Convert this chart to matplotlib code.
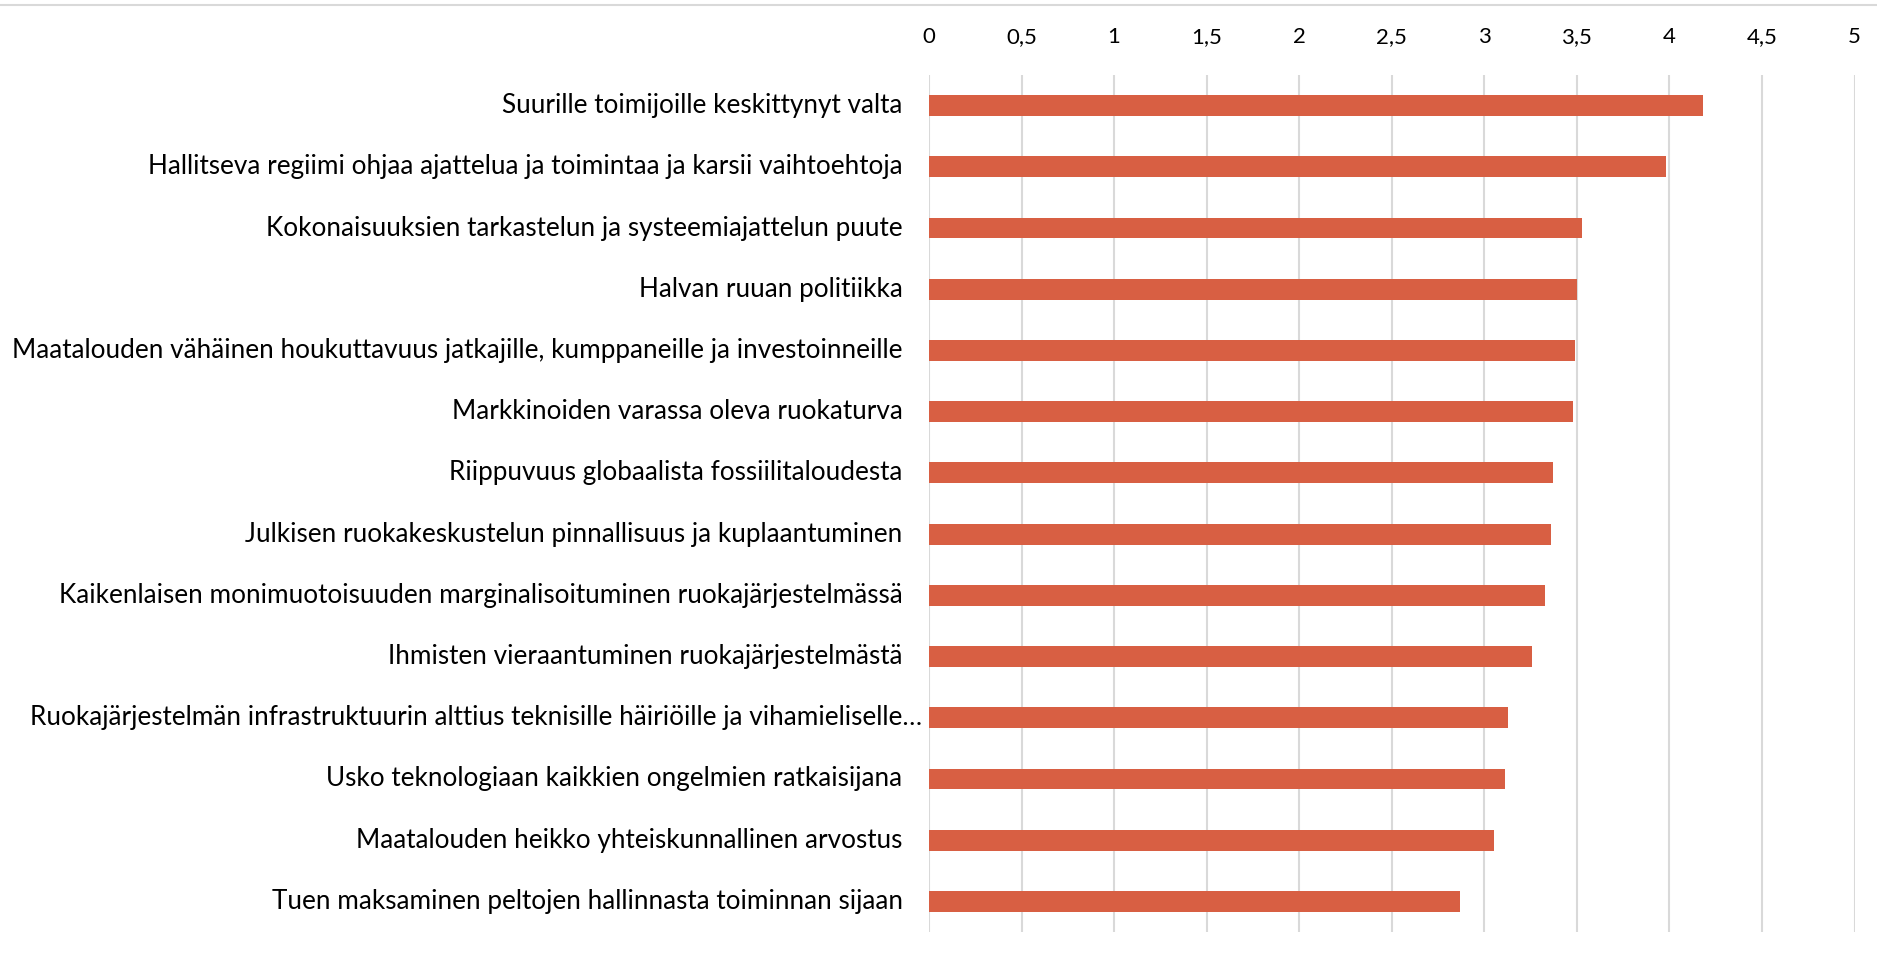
import matplotlib
matplotlib.use("Agg")
import matplotlib.pyplot as plt
from matplotlib.lines import Line2D
from matplotlib.ticker import MultipleLocator, FuncFormatter

categories = [
    "Suurille toimijoille keskittynyt valta",
    "Hallitseva regiimi ohjaa ajattelua ja toimintaa ja karsii vaihtoehtoja",
    "Kokonaisuuksien tarkastelun ja systeemiajattelun puute",
    "Halvan ruuan politiikka",
    "Maatalouden vähäinen houkuttavuus jatkajille, kumppaneille ja investoinneille",
    "Markkinoiden varassa oleva ruokaturva",
    "Riippuvuus globaalista fossiilitaloudesta",
    "Julkisen ruokakeskustelun pinnallisuus ja kuplaantuminen",
    "Kaikenlaisen monimuotoisuuden marginalisoituminen ruokajärjestelmässä",
    "Ihmisten vieraantuminen ruokajärjestelmästä",
    "Ruokajärjestelmän infrastruktuurin alttius teknisille häiriöille ja vihamieliselle…",
    "Usko teknologiaan kaikkien ongelmien ratkaisijana",
    "Maatalouden heikko yhteiskunnallinen arvostus",
    "Tuen maksaminen peltojen hallinnasta toiminnan sijaan",
]
values = [4.18, 3.98, 3.53, 3.50, 3.49, 3.48, 3.37, 3.36, 3.33, 3.26, 3.13, 3.11, 3.05, 2.87]

FONT = "Lato"
W, H = 1877, 958
PAD = 19  # points
fig = plt.figure(figsize=(W / 100, H / 100), dpi=100)
ax = fig.add_axes([929 / W, 1 - 932 / H, (1854.5 - 929) / W, (932 - 75) / H])

y = list(range(len(categories)))
ax.barh(y, values, height=0.34, color="#D85F43", zorder=3)
ax.set_xlim(0, 5)
ax.set_ylim(len(categories) - 0.5, -0.5)
ax.xaxis.set_major_locator(MultipleLocator(0.5))
ax.xaxis.set_major_formatter(FuncFormatter(lambda v, p: ("%g" % v).replace(".", ",")))
ax.xaxis.tick_top()
ax.grid(axis="x", color="#D9D9D9", linewidth=1.5, zorder=0)
for s in ax.spines.values():
    s.set_visible(False)
ax.tick_params(axis="both", length=0)
ax.tick_params(axis="x", pad=20, labelsize=16, labelcolor="#000000")
for lab in ax.get_xticklabels():
    lab.set_family(FONT)
ax.set_yticks(y)
ax.set_yticklabels([], fontsize=16)

# measure the longest label to fit the reference width
probe = ax.text(0, 0, categories[4], fontsize=16, family=FONT)
fig.canvas.draw()
wpx = probe.get_window_extent(fig.canvas.get_renderer()).width
probe.remove()
fs = 16 * 891 / wpx

for i, cat in enumerate(categories):
    shift = 14 if cat.endswith("…") else 0
    ax.annotate(cat, xy=(0, i), xycoords=("axes fraction", "data"),
                xytext=(-PAD + shift, 0), textcoords="offset points",
                ha="right", va="center", fontsize=fs, family=FONT, color="#000000")

fig.add_artist(Line2D([0, 1], [1 - 5 / H, 1 - 5 / H], color="#D9D9D9", linewidth=1.5))

fig.savefig("out.png", dpi=100, facecolor="white")
